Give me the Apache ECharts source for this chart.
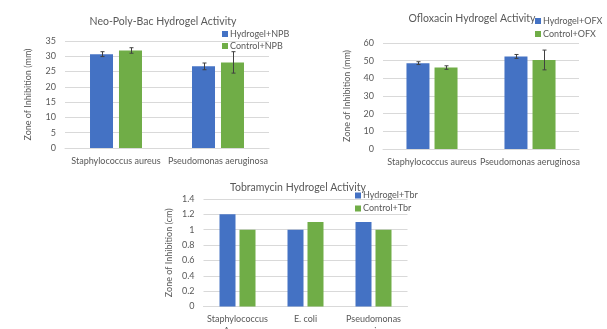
<!DOCTYPE html>
<html><head><meta charset="utf-8">
<script src="https://cdn.jsdelivr.net/npm/echarts@6/dist/echarts.min.js"></script>
<style>html,body{margin:0;padding:0;background:#fff}#c{width:607px;height:329px}</style>
</head><body><div id="c"></div>
<script>
// ---- Data ----
const cats1 = ['Staphylococcus aureus', 'Pseudomonas aeruginosa'];
const npbHydrogel = [30.7, 26.7];
const npbHydrogelErr = [0.8, 1.1];
const npbControl = [31.9, 28.0];
const npbControlErr = [0.9, 3.5];

const cats2 = ['Staphylococcus aureus', 'Pseudomonas aeruginosa'];
const ofxHydrogel = [48.6, 52.4];
const ofxHydrogelErr = [0.8, 1.1];
const ofxControl = [46.1, 50.4];
const ofxControlErr = [1.0, 5.6];

const cats3 = ['Staphylococcus Aureus', 'E. coli', 'Pseudomonas aeruginosa'];
const tbrHydrogel = [1.2, 1.0, 1.1];
const tbrControl = [1.0, 1.1, 1.0];

const titles = ['Neo-Poly-Bac Hydrogel Activity', 'Ofloxacin Hydrogel Activity', 'Tobramycin Hydrogel Activity'];
const yNames = ['Zone of Inhibition (mm)', 'Zone of Inhibition (mm)', 'Zone of Inhibition (cm)'];

// ---- Style ----
const FONT = 'Lato';
const TXT = '#595959';
const BLUE = '#4472C4';
const GREEN = '#70AD47';
const GRIDC = '#D9D9D9';

const chart = echarts.init(document.getElementById('c'));

function xAxis(idx, data, wrap) {
  return {
    type: 'category', gridIndex: idx, data: data,
    axisLine: {lineStyle: {color: GRIDC}}, axisTick: {show: false},
    axisLabel: {color: TXT, fontFamily: FONT, fontSize: 9, margin: 7, interval: 0,
      formatter: wrap ? (v => v.length > 10 ? v.replace(' ', '\n') : v) : null, lineHeight: 12}
  };
}
function yAxis(idx, max, interval, name, gap) {
  return {
    type: 'value', gridIndex: idx, min: 0, max: max, interval: interval,
    name: name, nameLocation: 'middle', nameGap: gap, nameRotate: 90,
    nameTextStyle: {color: TXT, fontFamily: FONT, fontSize: 9},
    axisLine: {show: false}, axisTick: {show: false},
    axisLabel: {color: TXT, fontFamily: FONT, fontSize: 9, margin: 9},
    splitLine: {lineStyle: {color: GRIDC, width: 1}}
  };
}
function bar(name, idx, data, color, width, gap) {
  return {
    name: name, type: 'bar', xAxisIndex: idx, yAxisIndex: idx, data: data,
    barWidth: width, barGap: gap, itemStyle: {color: color}, animation: false
  };
}
function errBar(idx, vals, errs, offset) {
  return {
    type: 'custom', xAxisIndex: idx, yAxisIndex: idx, animation: false, z: 10,
    data: vals.map((v, i) => [i, v - errs[i], v + errs[i]]),
    renderItem: function (params, api) {
      const lo = api.coord([api.value(0), api.value(1)]);
      const hi = api.coord([api.value(0), api.value(2)]);
      const x = Math.round(lo[0] + offset) + 0.5;
      const c = 2;
      const st = {stroke: '#404040', lineWidth: 1};
      return {type: 'group', children: [
        {type: 'line', shape: {x1: x, y1: hi[1], x2: x, y2: lo[1]}, style: st},
        {type: 'line', shape: {x1: x - c, y1: hi[1], x2: x + c, y2: hi[1]}, style: st},
        {type: 'line', shape: {x1: x - c, y1: lo[1], x2: x + c, y2: lo[1]}, style: st}
      ]};
    }
  };
}
function legend(names, left, top, gap) {
  return {
    data: names, left: left, top: top, orient: 'vertical', itemWidth: 6, itemHeight: 6,
    itemGap: gap, icon: 'rect', selectedMode: false, padding: 0,
    textStyle: {color: TXT, fontFamily: FONT, fontSize: 9, lineHeight: 11, padding: [0, 0, 0, -3]}
  };
}
function grid(l, t, w, h) {
  return {left: l, top: t, width: w, height: h, containLabel: false, outerBoundsMode: 'none'};
}
const titleStyle = {color: TXT, fontFamily: FONT, fontSize: 10.5, fontWeight: 'normal'};

const option = {
  animation: false,
  title: [
    {text: titles[0], left: 158, top: 11, textAlign: 'center', textStyle: titleStyle},
    {text: titles[1], left: 467, top: 8, textAlign: 'center', textStyle: titleStyle},
    {text: titles[2], left: 293, top: 177, textAlign: 'center', textStyle: titleStyle}
  ],
  legend: [
    legend(['Hydrogel+NPB', 'Control+NPB'], 222, 28.5, 1),
    legend(['Hydrogel+OFX', 'Control+OFX'], 535, 15.5, 2),
    legend(['Hydrogel+Tbr', 'Control+Tbr'], 355, 190, 2)
  ],
  grid: [
    grid(65, 41, 204, 107),
    grid(383, 43, 196, 106),
    grid(203.5, 199, 204, 107.5)
  ],
  xAxis: [xAxis(0, cats1, false), xAxis(1, cats2, false), xAxis(2, cats3, true)],
  yAxis: [
    yAxis(0, 35, 5, yNames[0], 32),
    yAxis(1, 60, 10, yNames[1], 31),
    yAxis(2, 1.4, 0.2, yNames[2], 30)
  ],
  series: [
    bar('Hydrogel+NPB', 0, npbHydrogel, BLUE, 23, '26%'),
    bar('Control+NPB', 0, npbControl, GREEN, 23, '26%'),
    errBar(0, npbHydrogel, npbHydrogelErr, -14.5),
    errBar(0, npbControl, npbControlErr, 14.5),
    bar('Hydrogel+OFX', 1, ofxHydrogel, BLUE, 23, '22%'),
    bar('Control+OFX', 1, ofxControl, GREEN, 23, '22%'),
    errBar(1, ofxHydrogel, ofxHydrogelErr, -14),
    errBar(1, ofxControl, ofxControlErr, 14),
    bar('Hydrogel+Tbr', 2, tbrHydrogel, BLUE, 16, '25%'),
    bar('Control+Tbr', 2, tbrControl, GREEN, 16, '25%')
  ]
};
chart.setOption(option);
</script>
</body></html>
